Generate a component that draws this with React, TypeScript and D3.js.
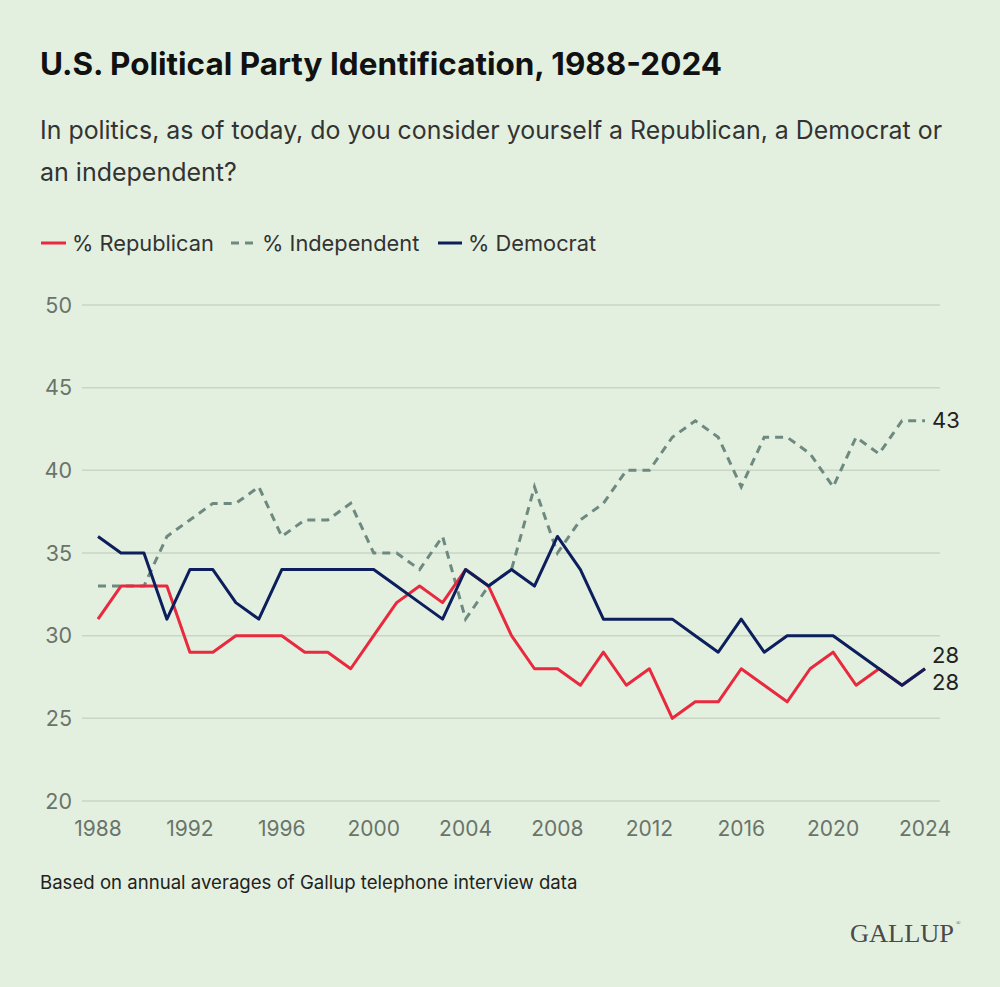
import React from "react";
import * as d3 from "d3";

const years: number[] = d3.range(1988, 2025);
const republican: number[] = [31, 33, 33, 33, 29, 29, 30, 30, 30, 29, 29, 28, 30, 32, 33, 32, 34, 33, 30, 28, 28, 27, 29, 27, 28, 25, 26, 26, 28, 27, 26, 28, 29, 27, 28, 27, 28];
const independent: number[] = [33, 33, 33, 36, 37, 38, 38, 39, 36, 37, 37, 38, 35, 35, 34, 36, 31, 33, 34, 39, 35, 37, 38, 40, 40, 42, 43, 42, 39, 42, 42, 41, 39, 42, 41, 43, 43];
const democrat: number[] = [36, 35, 35, 31, 34, 34, 32, 31, 34, 34, 34, 34, 34, 33, 32, 31, 34, 33, 34, 33, 36, 34, 31, 31, 31, 31, 30, 29, 31, 29, 30, 30, 30, 29, 28, 27, 28];
const yTicks: number[] = [20, 25, 30, 35, 40, 45, 50];
const xTicks: number[] = [1988, 1992, 1996, 2000, 2004, 2008, 2012, 2016, 2020, 2024];

const BG = "#E3F0E0";
const RED = "#E8293E";
const GRAY = "#6E8A80";
const NAVY = "#0C1E5B";
const FONT = "Inter, 'Noto Sans', sans-serif";

export default function App() {
  const x = d3.scaleLinear().domain([1988, 2024]).range([98, 925]);
  const y = d3.scaleLinear().domain([20, 50]).range([801, 305]);
  const line = (vals: number[]) =>
    d3.line<number>().x((_, i) => x(years[i])).y((d) => y(d))(vals) || "";

  return (
    <svg
      width={1000}
      height={987}
      style={{ position: "absolute", left: 0, top: 0, display: "block" }}
      fontFamily={FONT}
    >
      <rect width={1000} height={987} fill={BG} />
      <text x={40} y={75} fontSize={31} fontWeight={700} fill="#111" textLength={682} lengthAdjust="spacingAndGlyphs">
        U.S. Political Party Identification, 1988-2024
      </text>
      <text x={40} y={139} fontSize={25} fill="#333" textLength={902} lengthAdjust="spacingAndGlyphs">
        In politics, as of today, do you consider yourself a Republican, a Democrat or
      </text>
      <text x={40} y={181} fontSize={25} fill="#333">
        an independent?
      </text>

      {/* legend */}
      <g fontSize={21.8} fill="#333">
        <line x1={41} x2={66} y1={243} y2={243} stroke={RED} strokeWidth={3} />
        <text x={72} y={250.5}>% Republican</text>
        <line x1={231} x2={255} y1={243} y2={243} stroke={GRAY} strokeWidth={3} strokeDasharray="8,6" />
        <text x={262} y={250.5}>% Independent</text>
        <line x1={438} x2={462} y1={243} y2={243} stroke={NAVY} strokeWidth={3} />
        <text x={468} y={250.5}>% Democrat</text>
      </g>

      {/* grid */}
      {yTicks.map((t) => (
        <g key={t}>
          <line x1={82} x2={940} y1={y(t)} y2={y(t)} stroke="#C9D6C6" strokeWidth={1.5} />
          <text x={72} y={y(t)} dy="0.35em" textAnchor="end" fontSize={21.5} fill="#6a746a">
            {t}
          </text>
        </g>
      ))}
      {xTicks.map((t) => (
        <text key={t} x={x(t)} y={836} textAnchor="middle" fontSize={21} fill="#6a746a">
          {t}
        </text>
      ))}

      {/* lines */}
      <path d={line(independent)} fill="none" stroke={GRAY} strokeWidth={3} strokeDasharray="8,6" />
      <path d={line(republican)} fill="none" stroke={RED} strokeWidth={3} strokeLinejoin="round" />
      <path d={line(democrat)} fill="none" stroke={NAVY} strokeWidth={3} strokeLinejoin="round" />

      {/* end labels */}
      <g fontSize={22} fill="#222">
        <text x={932} y={y(independent[independent.length - 1])} dy="0.35em">
          {independent[independent.length - 1]}
        </text>
        <text x={932} y={663}>
          {democrat[democrat.length - 1]}
        </text>
        <text x={932} y={690}>
          {republican[republican.length - 1]}
        </text>
      </g>

      <text x={40} y={889} fontSize={18.6} fill="#222">
        Based on annual averages of Gallup telephone interview data
      </text>

      <text x={850} y={942} fontSize={26} fill="#4a4a4a" fontFamily="'Liberation Serif', 'DejaVu Serif', serif" textLength={104} lengthAdjust="spacingAndGlyphs">
        GALLUP
      </text>
      <text x={956} y={925} fontSize={6} fill="#4a4a4a" fontFamily="'Liberation Serif', serif">®</text>
    </svg>
  );
}
